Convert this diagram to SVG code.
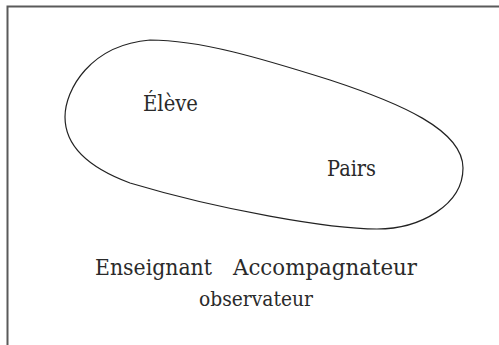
<svg xmlns="http://www.w3.org/2000/svg" width="499" height="345" viewBox="0 0 499 345">
<style>
.lbl{font-family:"DejaVu Serif","Liberation Serif",serif;fill:#2a2a2a;}
.frame{fill:none;stroke:#5a5a5a;stroke-width:2;}
.blob{fill:none;stroke:#222;stroke-width:1.2;}
</style>
<rect width="499" height="345" fill="#fff"/>
<path class="frame" d="M7.5,345 V6.5 H499"/>
<g id="ensemble">
<path class="blob" d="M150,40 C200,40 260,58 330,80 C400,103 463,130 463,168 C463,205 420,229 377,229 C330,229 220,210 130,183 C95,170 65,150 65,117 C65,90 90,45 150,40 Z"/>
</g>
<g id="eleve"><text class="lbl" x="143" y="111" font-size="21.5" textLength="55" lengthAdjust="spacingAndGlyphs">Élève</text></g>
<g id="pairs"><text class="lbl" x="327" y="176" font-size="21.5" textLength="49" lengthAdjust="spacingAndGlyphs">Pairs</text></g>
<g id="enseignant"><text class="lbl" x="95" y="275" font-size="21.5" textLength="117" lengthAdjust="spacingAndGlyphs">Enseignant</text></g>
<g id="accompagnateur"><text class="lbl" x="233" y="275" font-size="21.5" textLength="184" lengthAdjust="spacingAndGlyphs">Accompagnateur</text></g>
<g id="observateur"><text class="lbl" x="199" y="306" font-size="20" textLength="114" lengthAdjust="spacingAndGlyphs">observateur</text></g>
</svg>
